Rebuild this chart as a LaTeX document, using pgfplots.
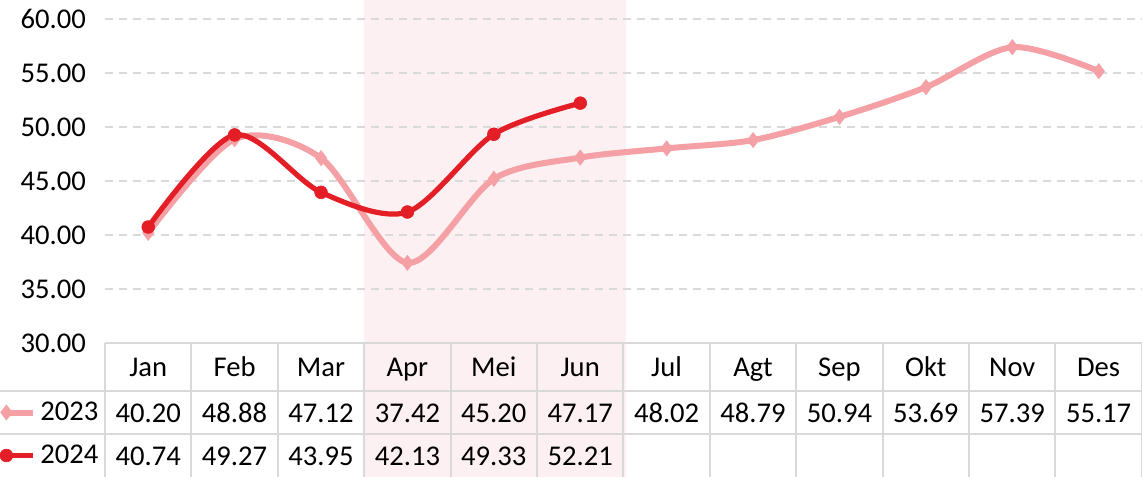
\documentclass[border=0pt]{standalone}
\usepackage{fontspec}
\setmainfont{Carlito}
\usepackage{pgfplots}
\pgfplotsset{compat=1.18}
\definecolor{c23}{RGB}{244,160,164}
\definecolor{c24}{RGB}{227,30,38}
\definecolor{hlpink}{RGB}{252,240,242}
\definecolor{gridc}{RGB}{217,217,217}
\newcommand\tf{\fontsize{14.3}{17}\selectfont}
\begin{document}
\begin{tikzpicture}
\begin{axis}[
  set layers,
  scale only axis, width=518.5pt, height=162pt,
  xmin=-0.5, xmax=11.5, ymin=30, ymax=60,
  clip=false,
  axis line style={draw=none},
  xtick=\empty,
  ytick={30,35,...,60},
  major tick length=0pt,
  ymajorgrids,
  grid style={gridc, line width=1pt, dash pattern=on 4pt off 3pt},
  y tick label style={/pgf/number format/.cd, fixed, fixed zerofill, precision=2, /tikz/.cd, font=\tf, xshift=-6pt},
  /pgf/number format/assume math mode=true,
  legend style={at={(-0.10125,-0.14815)}, anchor=north west, draw=none, fill=none,
    inner sep=0pt, outer sep=0pt, row sep=0pt, font=\tf,
    nodes={inner ysep=0pt, minimum height=21.5pt, inner xsep=2pt}},
  legend cell align=left,
  legend image code/.code={%
    \draw[#1, mark repeat=2, mark phase=1] plot coordinates {(2pt,0pt) (15.5pt,0pt)};},
]
\begin{pgfonlayer}{axis background}
\fill[hlpink] (axis cs:2.5,17.5) rectangle (axis cs:5.53,61.8);
\end{pgfonlayer}
\addplot[c23, line width=3pt, smooth, tension=0.5, mark=diamond*, mark size=3.8pt,
  mark options={solid, line width=0.3pt}]
  coordinates {(0,40.20) (1,48.88) (2,47.12) (3,37.42) (4,45.20) (5,47.17)
               (6,48.02) (7,48.79) (8,50.94) (9,53.69) (10,57.39) (11,55.17)};
\addplot[c24, line width=2.6pt, smooth, tension=0.5, mark=*, mark size=3.2pt,
  mark options={solid, line width=0.3pt}]
  coordinates {(0,40.74) (1,49.27) (2,43.95) (3,42.13) (4,49.33) (5,52.21)};
\legend{2023,2024}
\end{axis}
\draw[gridc, line width=1pt] (0,0) -- (518.5pt,0);
\draw[gridc, line width=1pt] (-52.5pt,-24pt) -- (518.5pt,-24pt);
\draw[gridc, line width=1pt] (-52.5pt,-45.5pt) -- (518.5pt,-45.5pt);
\foreach \k in {0,...,12} \draw[gridc, line width=1pt] ({\k*43.2pt},0) -- ({\k*43.2pt},-67pt);
\foreach \m [count=\i from 0] in {Jan,Feb,Mar,Apr,Mei,Jun,Jul,Agt,Sep,Okt,Nov,Des}
  \node[font=\tf, inner sep=0pt, anchor=base] at ({21.6pt+\i*43.2pt},-16.6pt) {\m};
\foreach \v [count=\i from 0] in {40.20,48.88,47.12,37.42,45.20,47.17,48.02,48.79,50.94,53.69,57.39,55.17}
  \node[font=\tf, inner sep=0pt, anchor=base] at ({21.6pt+\i*43.2pt},-39.6pt) {\v};
\foreach \v [count=\i from 0] in {40.74,49.27,43.95,42.13,49.33,52.21}
  \node[font=\tf, inner sep=0pt, anchor=base] at ({21.6pt+\i*43.2pt},-61.1pt) {\v};
\pgfresetboundingbox
\useasboundingbox (-52.5pt,-67pt) rectangle (518.5pt,171.5pt);
\end{tikzpicture}
\end{document}
